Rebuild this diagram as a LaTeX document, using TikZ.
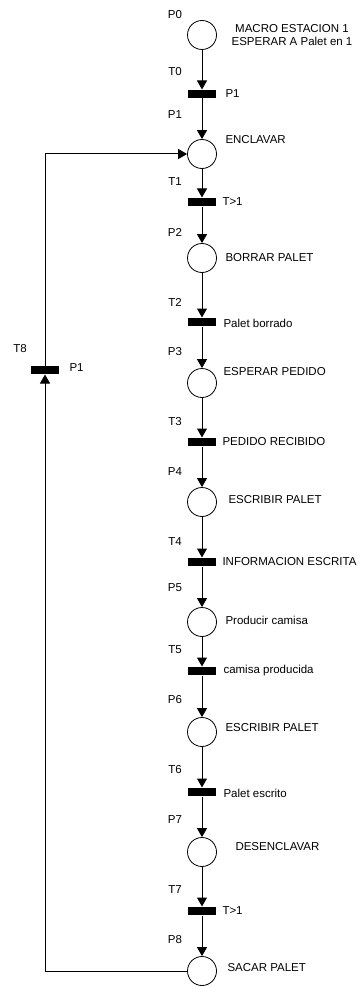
\documentclass[tikz,border=0pt]{standalone}
\usepackage{fontspec}
\setmainfont{Liberation Sans}
\usetikzlibrary{arrows.meta}

\begin{document}
\begin{tikzpicture}[x=1pt, y=-1pt, line width=1pt,
    font=\fontsize{11.5}{13.5}\selectfont,
    place/.style={circle, draw, line width=0.8pt, minimum size=29pt, inner sep=0pt},
    trans/.style={rectangle, fill, minimum width=28pt, minimum height=8pt, inner sep=0pt},
    tag/.style={inner sep=0pt},
    lbl/.style={anchor=west, inner sep=0pt},
    >={Triangle[width=10pt, length=9pt]}]
    \useasboundingbox (0, 0) rectangle (361, 987);

    % places and transitions
    \node[place] (p0) at (202, 35) {};
    \node[trans] (t0) at (202, 94) {};
    \node[place] (p1) at (202, 154) {};
    \node[trans] (t1) at (202, 202) {};
    \node[place] (p2) at (202, 258) {};
    \node[trans] (t2) at (202, 322) {};
    \node[place] (p3) at (202, 383) {};
    \node[trans] (t3) at (202, 442) {};
    \node[place] (p4) at (202, 502) {};
    \node[trans] (t4) at (202, 562) {};
    \node[place] (p5) at (202, 622) {};
    \node[trans] (t5) at (202, 671) {};
    \node[place] (p6) at (202, 732) {};
    \node[trans] (t6) at (202, 792) {};
    \node[place] (p7) at (202, 852) {};
    \node[trans] (t7) at (202, 911) {};
    \node[place] (p8) at (202, 971) {};
    \node[trans] (t8) at (45, 370) {};

    % names
    \node[tag] (np0) at (175, 15) {P0};
    \node[tag] (nt0) at (175, 72) {T0};
    \node[tag] (np1) at (175, 115) {P1};
    \node[tag] (nt1) at (175, 182) {T1};
    \node[tag] (np2) at (175, 232) {P2};
    \node[tag] (nt2) at (175, 302) {T2};
    \node[tag] (np3) at (175, 352) {P3};
    \node[tag] (nt3) at (175, 422) {T3};
    \node[tag] (np4) at (175, 472) {P4};
    \node[tag] (nt4) at (175, 542) {T4};
    \node[tag] (np5) at (175, 588) {P5};
    \node[tag] (nt5) at (175, 650) {T5};
    \node[tag] (np6) at (175, 700) {P6};
    \node[tag] (nt6) at (175, 770) {T6};
    \node[tag] (np7) at (175, 820) {P7};
    \node[tag] (nt7) at (175, 890) {T7};
    \node[tag] (np8) at (175, 940) {P8};
    \node[tag] (nt8) at (20, 349) {T8};

    % actions
    \node[tag, align=center] (a0) at (292, 35) {MACRO ESTACION 1\\ESPERAR A Palet en 1};
    \node[lbl] (a1) at (225, 140) {ENCLAVAR};
    \node[lbl] (a2) at (225, 258) {BORRAR PALET};
    \node[lbl] (a3) at (223, 372) {ESPERAR PEDIDO};
    \node[lbl] (a4) at (228, 500) {ESCRIBIR PALET};
    \node[lbl] (a5) at (225, 620) {Producir camisa};
    \node[lbl] (a6) at (225, 728) {ESCRIBIR PALET};
    \node[lbl] (a7) at (235, 847) {DESENCLAVAR};
    \node[lbl] (a8) at (227, 968) {SACAR PALET};

    % conditions
    \node[lbl] (c0) at (225, 94) {P1};
    \node[lbl] (c1) at (222, 202) {T>1};
    \node[lbl] (c2) at (223, 323) {Palet borrado};
    \node[lbl] (c3) at (222, 442) {PEDIDO RECIBIDO};
    \node[lbl] (c4) at (222, 562) {INFORMACION ESCRITA};
    \node[lbl] (c5) at (223, 671) {camisa producida};
    \node[lbl] (c6) at (223, 793) {Palet escrito};
    \node[lbl] (c7) at (222, 911) {T>1};
    \node[lbl] (c8) at (69, 368) {P1};

    \draw[->]
    (p0) edge (t0) (t0) edge (p1)
    (p1) edge (t1) (t1) edge (p2)
    (p2) edge (t2) (t2) edge (p3)
    (p3) edge (t3) (t3) edge (p4)
    (p4) edge (t4) (t4) edge (p5)
    (p5) edge (t5) (t5) edge (p6)
    (p6) edge (t6) (t6) edge (p7)
    (p7) edge (t7) (t7) edge (p8)
    (p8) -| (t8);
    \draw[->] (t8) |- (p1);
\end{tikzpicture}
\end{document}
